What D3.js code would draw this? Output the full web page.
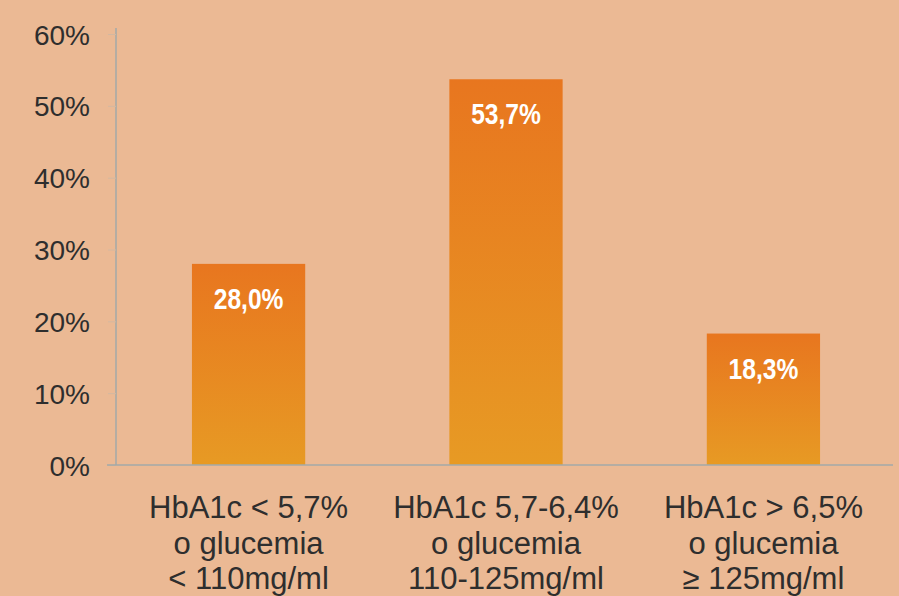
<!DOCTYPE html>
<html><head><meta charset="utf-8">
<script src="https://cdn.jsdelivr.net/npm/d3@7"></script>
<style>body{margin:0;background:#ebb994}svg{display:block}</style>
</head><body><svg id="c" width="899" height="596"></svg>
<script>
const categories = [
  ["HbA1c < 5,7%", "o glucemia", "< 110mg/ml"],
  ["HbA1c 5,7-6,4%", "o glucemia", "110-125mg/ml"],
  ["HbA1c > 6,5%", "o glucemia", "≥ 125mg/ml"]
];
const values = [28.0, 53.7, 18.3];
const valueLabels = ["28,0%", "53,7%", "18,3%"];
const yTicks = [0, 10, 20, 30, 40, 50, 60];

(function () {
const svg = d3.select("#c");
const W = 899, H = 596;
svg.append("rect").attr("width", W).attr("height", H).attr("fill", "#ebb994");

const pL = 116, pR = 896, pT = 34, pB = 465;
const x = d3.scaleBand().domain(d3.range(values.length)).range([pL, pR]).paddingInner(0.56).paddingOuter(0.295);
const y = d3.scaleLinear().domain([0, 60]).range([pB, pT]);

const defs = svg.append("defs");
const g = defs.append("linearGradient").attr("id", "bg").attr("x1", 0).attr("y1", 0).attr("x2", 0).attr("y2", 1);
g.append("stop").attr("offset", "0%").attr("stop-color", "#e8761f");
g.append("stop").attr("offset", "100%").attr("stop-color", "#e79a24");

// y axis
const yAxis = d3.axisLeft(y).tickValues(yTicks).tickFormat(d => d + "%").tickSize(8).tickPadding(18);
const ya = svg.append("g").attr("transform", `translate(${pL},0)`).call(yAxis);
ya.select(".domain").attr("stroke", "#a3aaa8").attr("stroke-width", 1.5).attr("d", `M0,${pT - 6}V${pB}`);
ya.selectAll(".tick line").attr("stroke", "#d4b8a0").attr("stroke-width", 1);
ya.selectAll(".tick text").attr("fill", "#2e2e2e").style("font-family", "Liberation Sans, Arial, sans-serif").style("font-size", "28px").attr("dy", "0.36em");

// bars
svg.selectAll("rect.bar").data(values).join("rect").attr("class", "bar")
  .attr("x", (d, i) => x(i)).attr("width", x.bandwidth())
  .attr("y", d => y(d)).attr("height", d => pB - y(d))
  .attr("fill", "url(#bg)");

// x baseline
svg.append("line").attr("x1", 107).attr("x2", 893).attr("y1", pB).attr("y2", pB)
  .attr("stroke", "#a3aaa8").attr("stroke-width", 1.5);

// value labels
svg.selectAll("text.val").data(values).join("text").attr("class", "val")
  .attr("transform", (d, i) => `translate(${x(i) + x.bandwidth() / 2},${y(d) + 45}) scale(0.82,1)`)
  .attr("text-anchor", "middle").attr("fill", "#fff")
  .style("font-family", "Liberation Sans, Arial, sans-serif").style("font-weight", "bold").style("font-size", "30px")
  .text((d, i) => valueLabels[i]);

// category labels
const cg = svg.selectAll("g.cat").data(categories).join("g").attr("class", "cat")
  .attr("transform", (d, i) => `translate(${x(i) + x.bandwidth() / 2},0)`);
cg.selectAll("text").data(d => d).join("text")
  .attr("x", 0).attr("y", (d, j) => 518 + j * 35.5)
  .attr("text-anchor", "middle").attr("fill", "#2e2e2e")
  .style("font-family", "Liberation Sans, Arial, sans-serif").style("font-size", "31px")
  .text(d => d);
})();
</script></body></html>
